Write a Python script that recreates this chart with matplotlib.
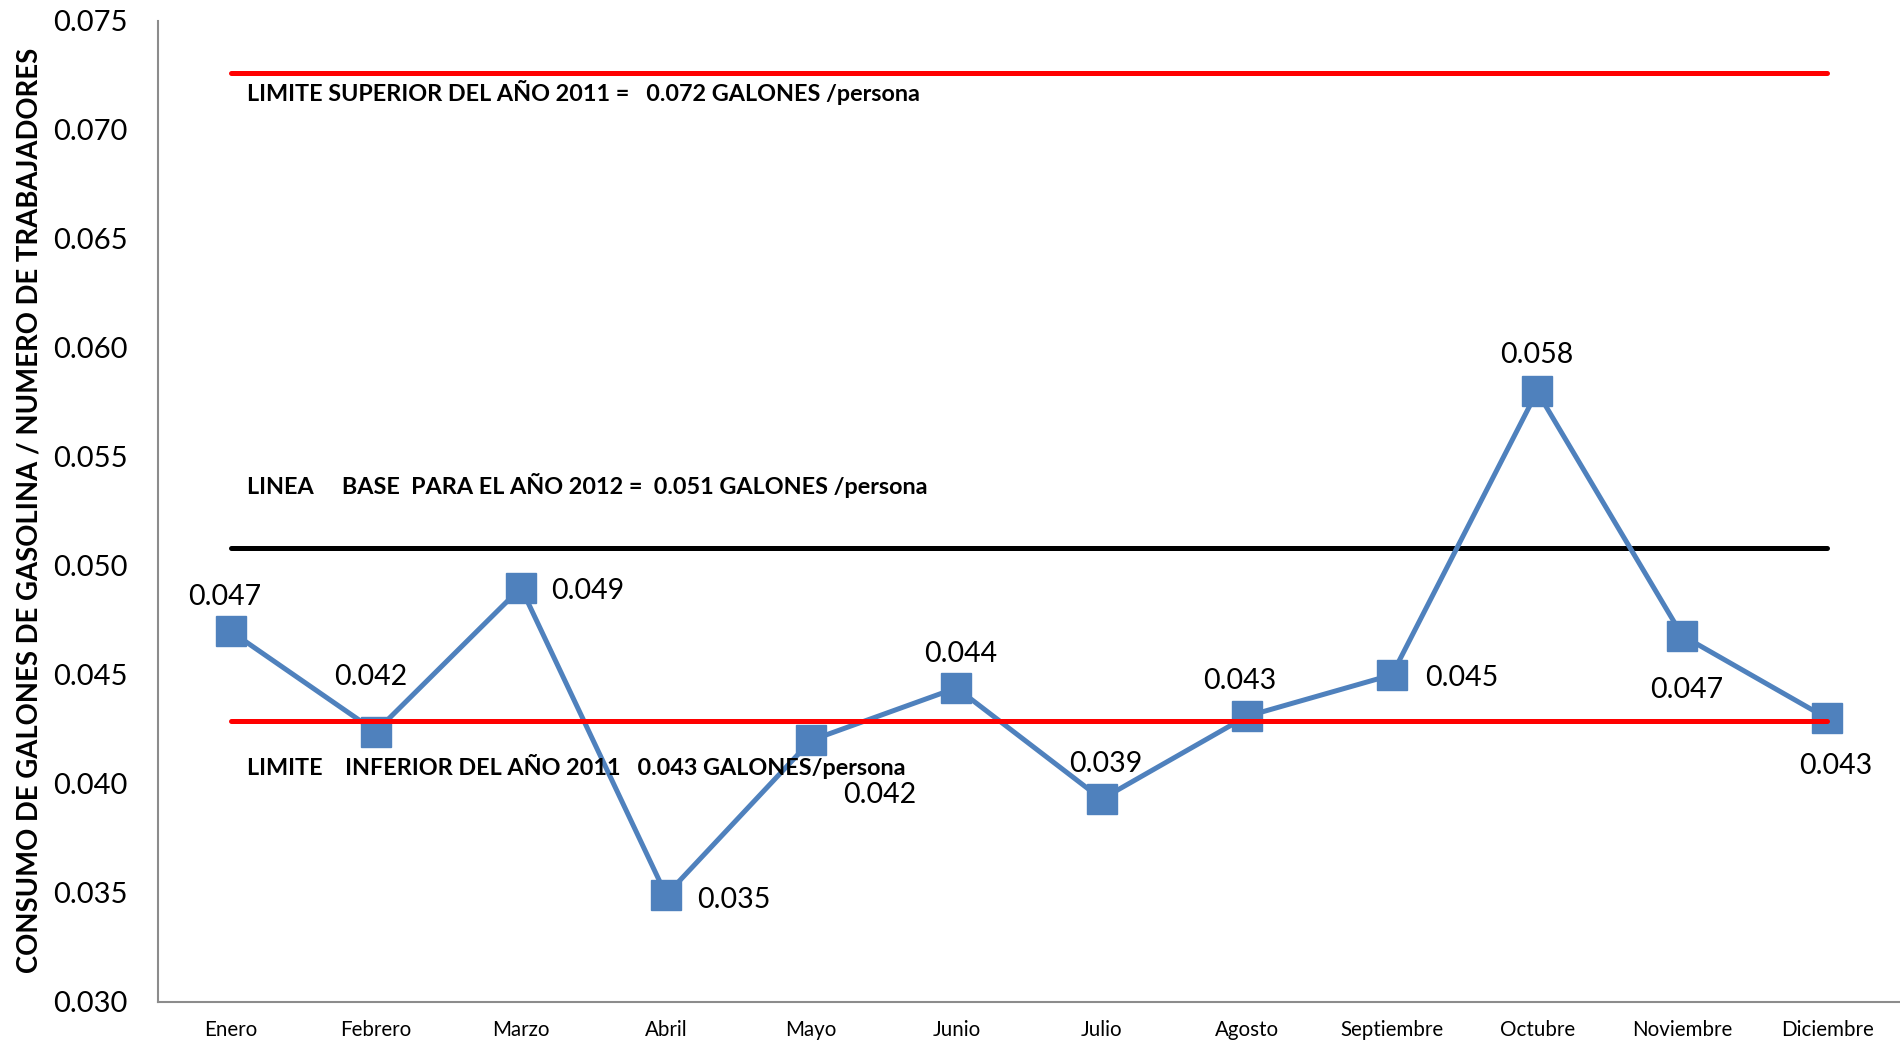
import matplotlib
matplotlib.use("Agg")
import matplotlib.pyplot as plt

months = ["Enero", "Febrero", "Marzo", "Abril", "Mayo", "Junio", "Julio",
          "Agosto", "Septiembre", "Octubre", "Noviembre", "Diciembre"]
consumo = [0.0470, 0.0424, 0.0490, 0.0349, 0.0420, 0.0444, 0.0393,
           0.0431, 0.0450, 0.0580, 0.0468, 0.0430]
limite_superior = 0.0726
linea_base = 0.0508
limite_inferior = 0.0429
yticks = [0.030, 0.035, 0.040, 0.045, 0.050, 0.055, 0.060, 0.065, 0.070, 0.075]

txt_sup = "LIMITE SUPERIOR DEL AÑO 2011 =   0.072 GALONES /persona"
txt_base = "LINEA     BASE  PARA EL AÑO 2012 =  0.051 GALONES /persona"
txt_inf = "LIMITE    INFERIOR DEL AÑO 2011   0.043 GALONES/persona"
ylabel = "CONSUMO DE GALONES DE GASOLINA / NUMERO DE TRABAJADORES"

# label offsets (points) relative to each marker
label_offsets = [(-4, 24.5), (-4, 39.5), (48, -2.5), (49, -3.5), (49, -39.5), (3, 24.5),
                 (3, 25.5), (-5, 25.5), (50, -2.5), (0, 26.5), (3, -39.5), (6, -34.5)]

plt.rcParams['font.family'] = ['Lato', 'DejaVu Sans']

fig = plt.figure(figsize=(19, 10.42), dpi=100)
ax = fig.add_axes([0.0832, 0.0385, 0.9168, 0.9415])

x = list(range(len(months)))
blue = "#4F81BD"
ax.plot([0, 11], [limite_superior] * 2, color="#FF0000", lw=3.6, solid_capstyle="round", zorder=2)
ax.plot([0, 11], [linea_base] * 2, color="black", lw=3.6, solid_capstyle="round", zorder=2)
ax.plot(x, consumo, color=blue, lw=3.6, marker="s", markersize=22,
        markerfacecolor=blue, markeredgecolor=blue, zorder=3)
ax.plot([0, 11], [limite_inferior] * 2, color="#FF0000", lw=3.6, solid_capstyle="round", zorder=4)

for xi, v, (dx, dy) in zip(x, consumo, label_offsets):
    ax.annotate(f"{v:.3f}", (xi, v), xytext=(dx, dy), textcoords="offset points",
                ha="center", va="center", fontsize=20.5, color="black", zorder=5)

ax.text(0.11, 0.0717, txt_sup, fontsize=16.8, fontweight="bold", va="center", ha="left")
ax.text(0.11, 0.0537, txt_base, fontsize=16.8, fontweight="bold", va="center", ha="left")
ax.text(0.11, 0.0408, txt_inf, fontsize=16.8, fontweight="bold", va="center", ha="left", zorder=6)

ax.set_xlim(-0.5, 11.5)
ax.set_ylim(0.030, 0.075)
ax.set_yticks(yticks)
ax.set_yticklabels([f"{t:.3f}" for t in yticks], fontsize=21)
ax.set_xticks(x)
ax.set_xticklabels(months, fontsize=14.8)
ax.tick_params(axis="both", length=0)
ax.tick_params(axis="y", pad=22)
ax.tick_params(axis="x", pad=13)
for s in ["top", "right"]:
    ax.spines[s].set_visible(False)
for s in ["left", "bottom"]:
    ax.spines[s].set_color("#8C8C8C")
    ax.spines[s].set_linewidth(1.5)

fig.text(0.0155, 0.51, ylabel, rotation=90, fontsize=19.8, fontweight="bold",
         va="center", ha="center")

fig.savefig("out.png", dpi=100)
